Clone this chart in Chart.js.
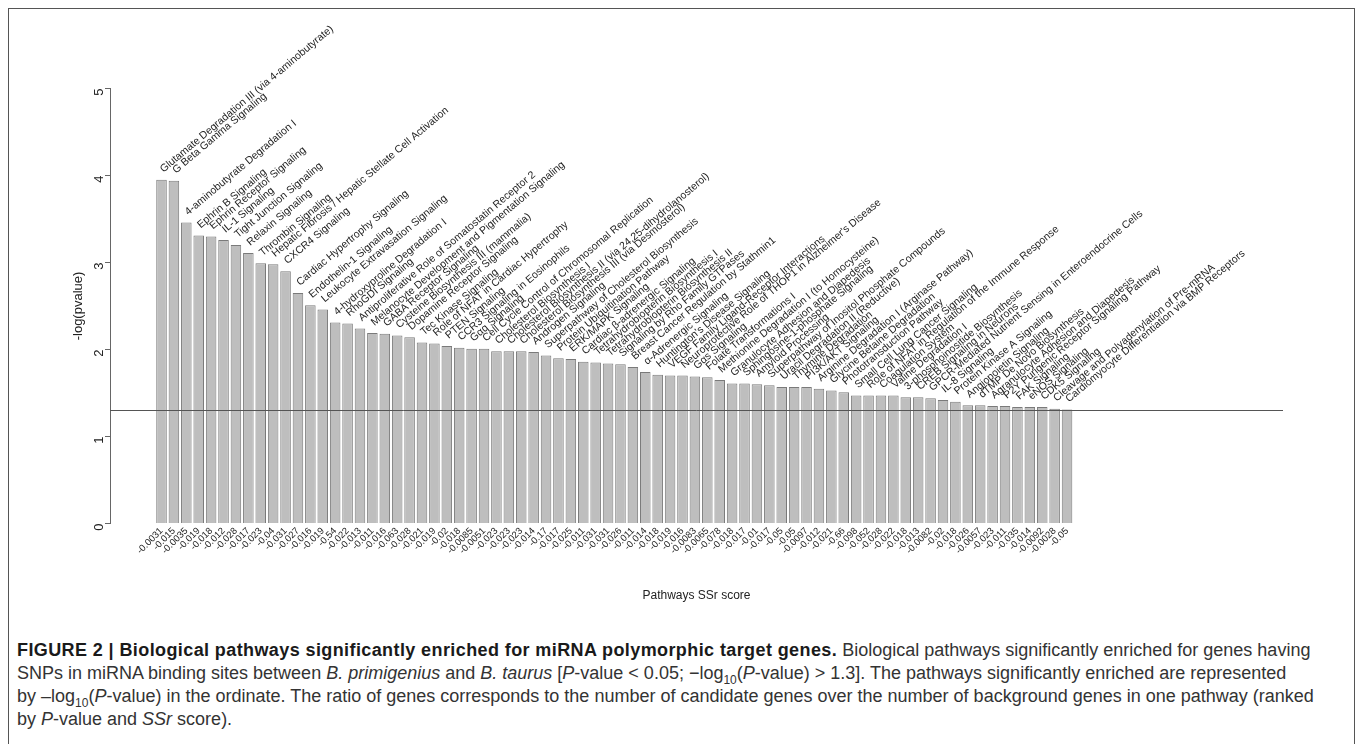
<!DOCTYPE html>
<html>
<head>
<meta charset="utf-8">
<script src="https://cdn.jsdelivr.net/npm/chart.js@4.4.1/dist/chart.umd.min.js"></script>
<style>
  html, body { margin: 0; padding: 0; background: #fff; width: 1358px; height: 744px; overflow: hidden; }
  #frame { position: absolute; left: 8px; top: 8px; width: 1347px; height: 800px; border: 1.5px solid #555; box-sizing: border-box; }
  #c { position: absolute; left: 0; top: 0; }
  #caption { position: absolute; left: 17px; top: 639px; font-family: "Liberation Sans", Arial, sans-serif; font-size: 18px; line-height: 23px; color: #333; white-space: nowrap; }
  #caption b { color: #1a1a1a; letter-spacing: 0.4px; }
  #caption sub { font-size: 12px; line-height: 0; }
</style>
</head>
<body>
<div id="frame"></div>
<canvas id="c" width="1358" height="615"></canvas>
<div id="caption">
<b>FIGURE 2 | Biological pathways significantly enriched for miRNA polymorphic target genes.</b> Biological pathways significantly enriched for genes having<br>
SNPs in miRNA binding sites between <i>B. primigenius</i> and <i>B. taurus</i> [<i>P</i>-value &lt; 0.05; −log<sub>10</sub>(<i>P</i>-value) &gt; 1.3]. The pathways significantly enriched are represented<br>
by –log<sub>10</sub>(<i>P</i>-value) in the ordinate. The ratio of genes corresponds to the number of candidate genes over the number of background genes in one pathway (ranked<br>
by <i>P</i>-value and <i>SSr</i> score).
</div>
<script>
const pathways = [
  "Glutamate Degradation III (via 4-aminobutyrate)",
  "G Beta Gamma Signaling",
  "4-aminobutyrate Degradation I",
  "Ephrin B Signaling",
  "Ephrin Receptor Signaling",
  "IL-1 Signaling",
  "Tight Junction Signaling",
  "Relaxin Signaling",
  "Thrombin Signaling",
  "Hepatic Fibrosis / Hepatic Stellate Cell Activation",
  "CXCR4 Signaling",
  "Cardiac Hypertrophy Signaling",
  "Endothelin-1 Signaling",
  "Leukocyte Extravasation Signaling",
  "4-hydroxyproline Degradation I",
  "RhoGDI Signaling",
  "Antiproliferative Role of Somatostatin Receptor 2",
  "Melanocyte Development and Pigmentation Signaling",
  "GABA Receptor Signaling",
  "Cysteine Biosynthesis III (mammalia)",
  "Dopamine Receptor Signaling",
  "Tec Kinase Signaling",
  "Role of NFAT in Cardiac Hypertrophy",
  "PTEN Signaling",
  "CCR3 Signaling in Eosinophils",
  "Gαq Signaling",
  "Cell Cycle Control of Chromosomal Replication",
  "Cholesterol Biosynthesis I",
  "Cholesterol Biosynthesis II (via 24,25-dihydrolanosterol)",
  "Cholesterol Biosynthesis III (via Desmosterol)",
  "Androgen Signaling",
  "Superpathway of Cholesterol Biosynthesis",
  "Protein Ubiquitination Pathway",
  "ERK/MAPK Signaling",
  "Cardiac β-adrenergic Signaling",
  "Tetrahydrobiopterin Biosynthesis I",
  "Tetrahydrobiopterin Biosynthesis II",
  "Signaling by Rho Family GTPases",
  "Breast Cancer Regulation by Stathmin1",
  "α-Adrenergic Signaling",
  "Huntington's Disease Signaling",
  "VEGF Family Ligand-Receptor Interactions",
  "Neuroprotective Role of THOP1 in Alzheimer's Disease",
  "Gαs Signaling",
  "Folate Transformations I",
  "Methionine Degradation I (to Homocysteine)",
  "Granulocyte Adhesion and Diapedesis",
  "Sphingosine-1-phosphate Signaling",
  "Amyloid Processing",
  "Superpathway of Inositol Phosphate Compounds",
  "Uracil Degradation II (Reductive)",
  "Thymine Degradation",
  "PI3K/AKT Signaling",
  "Arginine Degradation I (Arginase Pathway)",
  "Glycine Betaine Degradation",
  "Phototransduction Pathway",
  "Small Cell Lung Cancer Signaling",
  "Role of NFAT in Regulation of the Immune Response",
  "Coagulation System",
  "Valine Degradation I",
  "3-phosphoinositide Biosynthesis",
  "CREB Signaling in Neurons",
  "GPCR-Mediated Nutrient Sensing in Enteroendocrine Cells",
  "IL-8 Signaling",
  "Protein Kinase A Signaling",
  "Angiopoietin Signaling",
  "dTMP De Novo Biosynthesis",
  "Agranulocyte Adhesion and Diapedesis",
  "P2Y Purigenic Receptor Signaling Pathway",
  "FAK Signaling",
  "eNOS Signaling",
  "CDK5 Signaling",
  "Cleavage and Polyadenylation of Pre-mRNA",
  "Cardiomyocyte Differentiation via BMP Receptors"
];

const ssrScores = [
  "-0.0031","-0.015","-0.0035","-0.019","-0.018","-0.012","-0.028","-0.017","-0.023","-0.04",
  "-0.031","-0.027","-0.016","-0.019","-0.54","-0.022","-0.013","-0.011","-0.016","-0.063",
  "-0.028","-0.021","-0.019","-0.02","-0.018","-0.0085","-0.0051","-0.023","-0.023","-0.023",
  "-0.014","-0.17","-0.017","-0.025","-0.011","-0.031","-0.031","-0.026","-0.011","-0.014",
  "-0.018","-0.019","-0.016","-0.0083","-0.0065","-0.078","-0.018","-0.017","-0.01","-0.017",
  "-0.05","-0.05","-0.0097","-0.012","-0.021","-0.66","-0.098","-0.052","-0.028","-0.022",
  "-0.018","-0.013","-0.0082","-0.02","-0.018","-0.026","-0.0057","-0.023","-0.011","-0.035",
  "-0.014","-0.0092","-0.0028","-0.05"
];

const negLogP = [
  3.95, 3.94, 3.46, 3.31, 3.30, 3.26, 3.20, 3.11, 2.99, 2.98,
  2.90, 2.65, 2.51, 2.46, 2.31, 2.30, 2.24, 2.19, 2.18, 2.16,
  2.14, 2.08, 2.07, 2.04, 2.02, 2.01, 2.01, 1.98, 1.98, 1.98,
  1.97, 1.93, 1.90, 1.89, 1.86, 1.85, 1.84, 1.83, 1.80, 1.74,
  1.71, 1.70, 1.70, 1.69, 1.68, 1.65, 1.61, 1.61, 1.60, 1.59,
  1.57, 1.57, 1.57, 1.55, 1.53, 1.51, 1.47, 1.47, 1.47, 1.47,
  1.45, 1.45, 1.44, 1.42, 1.40, 1.36, 1.36, 1.35, 1.35, 1.34,
  1.34, 1.34, 1.32, 1.31
];

const yTicks = [0, 1, 2, 3, 4, 5];
const threshold = 1.3;

const FONT = "'Liberation Sans', Arial, sans-serif";
const points = negLogP.map((v, i) => ({ x: i + 1, y: v }));

const barLabelPlugin = {
  id: 'barLabels',
  afterDatasetsDraw(chart) {
    const ctx = chart.ctx;
    const meta = chart.getDatasetMeta(0);
    const ys = chart.scales.y;
    // threshold line
    ctx.save();
    ctx.strokeStyle = '#555';
    ctx.lineWidth = 1;
    const yp = Math.round(ys.getPixelForValue(threshold)) + 0.5;
    ctx.beginPath();
    ctx.moveTo(chart.chartArea.left, yp);
    ctx.lineTo(chart.chartArea.right, yp);
    ctx.stroke();
    ctx.restore();
    // rotated pathway labels
    ctx.save();
    ctx.font = "10.5px " + FONT;
    ctx.fillStyle = '#222';
    ctx.textAlign = 'left';
    ctx.textBaseline = 'alphabetic';
    meta.data.forEach((el, i) => {
      ctx.save();
      ctx.translate(el.x + 2, el.y - 7);
      ctx.rotate(-40 * Math.PI / 180);
      ctx.fillText(pathways[i], 0, 0);
      ctx.restore();
    });
    ctx.restore();
  }
};

new Chart(document.getElementById('c'), {
  type: 'bar',
  data: {
    datasets: [{
      data: points,
      backgroundColor: '#bebebe',
      borderColor: '#7a7a7a',
      borderWidth: 1,
      barPercentage: 0.85,
      categoryPercentage: 1.0
    }]
  },
  options: {
    responsive: false,
    animation: false,
    devicePixelRatio: 1,
    layout: { padding: { left: 0, right: 75, top: 88.5, bottom: 0 } },
    plugins: { legend: { display: false }, tooltip: { enabled: false } },
    scales: {
      x: {
        type: 'linear',
        min: -3.152,
        max: 91.41,
        offset: false,
        grid: { display: false, drawTicks: false, offset: false },
        border: { display: false },
        afterFit(scale) { scale.height = 615 - 523.5; },
        ticks: {
          stepSize: 1,
          autoSkip: false,
          minRotation: 45,
          maxRotation: 45,
          padding: 2,
          color: '#222',
          font: { family: FONT, size: 9.5 },
          callback(value) {
            const k = Math.round(value);
            if (Math.abs(value - k) > 1e-6 || k < 1 || k > ssrScores.length) return '';
            return ssrScores[k - 1];
          }
        },
        title: {
          display: true,
          text: 'Pathways SSr score',
          color: '#222',
          font: { family: FONT, size: 12 },
          padding: { top: 0, bottom: 12 }
        }
      },
      y: {
        min: 0,
        max: 5,
        afterFit(scale) { scale.width = 110; },
        afterBuildTicks(scale) { scale.ticks = yTicks.map(v => ({ value: v })); },
        grid: { display: true, drawOnChartArea: false, drawTicks: true, tickLength: 5, color: '#666' },
        border: { display: true, color: '#666', width: 1 },
        ticks: {
          color: '#222',
          padding: 6,
          minRotation: 90,
          maxRotation: 90,
          font: { family: FONT, size: 13 }
        },
        title: {
          display: true,
          text: '-log(pvalue)',
          color: '#222',
          font: { family: FONT, size: 13 },
          padding: { top: 71, bottom: 0 }
        }
      }
    }
  },
  plugins: [barLabelPlugin]
});
</script>
</body>
</html>
